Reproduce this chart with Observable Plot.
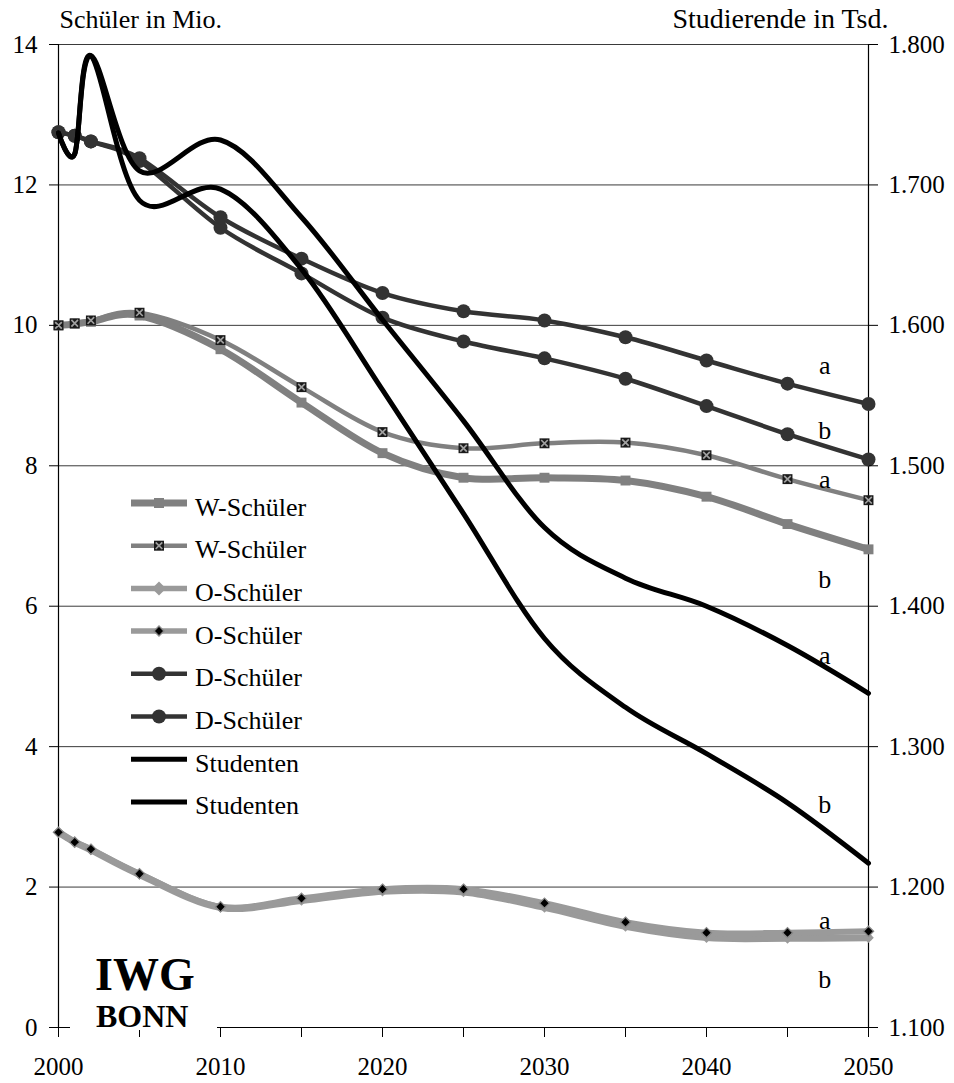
<!DOCTYPE html>
<html>
<head>
<meta charset="utf-8">
<script src="https://cdn.jsdelivr.net/npm/d3@7"></script>
<script src="https://cdn.jsdelivr.net/npm/@observablehq/plot@0.6"></script>
<style>
  body { margin: 0; background: #fff; }
  #chart { width: 954px; height: 1083px; }
</style>
</head>
<body>
<div id="chart"></div>
<script>
// ---------- data ----------
const years = [2000, 2001, 2002, 2005, 2010, 2015, 2020, 2025, 2030, 2035, 2040, 2045, 2050];

// Schüler in Mio. (left axis)
const wSchuelerB = [10.00, 10.02, 10.05, 10.14, 9.66, 8.90, 8.18, 7.83, 7.83, 7.79, 7.56, 7.17, 6.81];
const wSchuelerA = [10.00, 10.03, 10.07, 10.18, 9.79, 9.12, 8.48, 8.25, 8.32, 8.33, 8.15, 7.81, 7.51];
const oSchuelerB = [2.78, 2.64, 2.53, 2.18, 1.71, 1.81, 1.94, 1.93, 1.71, 1.44, 1.28, 1.27, 1.28];
const oSchuelerA = [2.78, 2.64, 2.54, 2.19, 1.72, 1.84, 1.97, 1.97, 1.77, 1.50, 1.35, 1.35, 1.37];
const dSchuelerB = [12.75, 12.70, 12.62, 12.34, 11.39, 10.74, 10.11, 9.77, 9.53, 9.24, 8.85, 8.45, 8.09];
const dSchuelerA = [12.75, 12.70, 12.62, 12.38, 11.54, 10.95, 10.46, 10.20, 10.07, 9.83, 9.50, 9.17, 8.88];

// Studierende in Tsd. (right axis)
const studentenA = [1737, 1722, 1792, 1710, 1732, 1677, 1604, 1532, 1456, 1420, 1400, 1372, 1338];
const studentenB = [1737, 1722, 1792, 1689, 1697, 1640, 1554, 1466, 1377, 1328, 1295, 1260, 1217];

const leftTicks = [0, 2, 4, 6, 8, 10, 12, 14];
const rightTicks = [1100, 1200, 1300, 1400, 1500, 1600, 1700, 1800];
const xTicks = [2000, 2005, 2010, 2015, 2020, 2025, 2030, 2035, 2040, 2045, 2050];
const xLabels = [2000, 2010, 2020, 2030, 2040, 2050];

const leftTitle = "Schüler in Mio.";
const rightTitle = "Studierende in Tsd.";
const legendLabels = ["W-Schüler", "W-Schüler", "O-Schüler", "O-Schüler", "D-Schüler", "D-Schüler", "Studenten", "Studenten"];
const logoLines = ["IWG", "BONN"];

// ---------- helpers ----------
const rightMin = 1100, rightStep = 50;           // 1.100 .. 1.800 on 0 .. 14
const toLeft = v => (v - rightMin) / rightStep;
const fromLeft = v => rightMin + v * rightStep;
const fmtDE = d3.formatLocale({decimal: ",", thousands: ".", grouping: [3], currency: ["", " €"]}).format(",d");
const rows = (vals, f = d => d) => years.map((year, i) => ({year, value: f(vals[i])}));

const curve = d3.curveCardinal.tension(0);   // Excel-like smoothing

const S = {
  wB: rows(wSchuelerB), wA: rows(wSchuelerA),
  oB: rows(oSchuelerB), oA: rows(oSchuelerA),
  dB: rows(dSchuelerB), dA: rows(dSchuelerA),
  sA: rows(studentenA, toLeft), sB: rows(studentenB, toLeft)
};

const cW = "#808080", cO = "#9a9a9a", cD = "#333333";
const FONT = "'Liberation Serif', 'Times New Roman', serif";

// end labels a / b: placed near 2047 relative to each series (pixel offset)
const endLabels = [
  {t: "a", s: S.dA, dy: -28}, {t: "b", s: S.dB, dy: -16},
  {t: "a", s: S.wA, dy: -10}, {t: "b", s: S.wB, dy: 43},
  {t: "a", s: S.sA, dy: -14}, {t: "b", s: S.sB, dy: -28},
  {t: "a", s: S.oA, dy: -11}, {t: "b", s: S.oB, dy: 42}
].map(d => {
  const n = d.s.length;
  return {t: d.t, year: 2047.3, value: (d.s[n - 1].value + d.s[n - 2].value) / 2, dy: d.dy};
});

// legend drawn as a custom mark inside the plot frame
function legendMark() {
  const g = d3.create("svg:g").attr("font-family", FONT).attr("font-size", 26).attr("fill", "black").attr("text-anchor", "start");
  const x0 = 131, x1 = 187, xm = 159, tx = 195, y0 = 503, step = 42.7;
  const styles = [
    {stroke: cW, w: 7, m: "sq"},
    {stroke: cW, w: 4.5, m: "sqx"},
    {stroke: cO, w: 5.5, m: "dia"},
    {stroke: cO, w: 5.5, m: "diab"},
    {stroke: cD, w: 4.5, m: "circ"},
    {stroke: cD, w: 4.5, m: "circ"},
    {stroke: "black", w: 5, m: null},
    {stroke: "black", w: 5, m: null}
  ];
  legendLabels.forEach((label, i) => {
    const cy = y0 + i * step, st = styles[i];
    g.append("line").attr("x1", x0).attr("x2", x1).attr("y1", cy).attr("y2", cy)
      .attr("stroke", st.stroke).attr("stroke-width", st.w);
    if (st.m === "sq") g.append("rect").attr("x", xm - 5).attr("y", cy - 5).attr("width", 10).attr("height", 10).attr("fill", cW);
    if (st.m === "sqx") {
      g.append("rect").attr("x", xm - 5).attr("y", cy - 5).attr("width", 10).attr("height", 10).attr("fill", "#1a1a1a");
      g.append("path").attr("d", `M${xm-3.3},${cy-3.3}L${xm+3.3},${cy+3.3}M${xm-3.3},${cy+3.3}L${xm+3.3},${cy-3.3}`).attr("stroke", "#a0a0a0").attr("stroke-width", 1.7);
    }
    if (st.m === "dia") g.append("path").attr("d", `M${xm},${cy-7}L${xm+7},${cy}L${xm},${cy+7}L${xm-7},${cy}Z`).attr("fill", cO);
    if (st.m === "diab") g.append("path").attr("d", `M${xm},${cy-5}L${xm+5},${cy}L${xm},${cy+5}L${xm-5},${cy}Z`).attr("fill", "black").attr("stroke", "#8a8a8a").attr("stroke-width", 1.4);
    if (st.m === "circ") g.append("circle").attr("cx", xm).attr("cy", cy).attr("r", 7).attr("fill", cD);
    g.append("text").attr("x", tx).attr("y", cy + 12.5).text(label);
  });
  return g.node();
}

function logoMark() {
  const g = d3.create("svg:g").attr("font-family", FONT).attr("font-weight", "bold").attr("fill", "black").attr("text-anchor", "start");
  g.append("rect").attr("x", 70).attr("y", 945).attr("width", 147).attr("height", 85).attr("fill", "white");
  g.append("text").attr("x", 95).attr("y", 990).attr("font-size", 46).text(logoLines[0]);
  g.append("text").attr("x", 96).attr("y", 1027).attr("font-size", 32).text(logoLines[1]);
  return g.node();
}

const lineOpts = (stroke, w) => ({x: "year", y: "value", curve, stroke, strokeWidth: w, strokeLinejoin: "round"});

const plot = Plot.plot({
  width: 954, height: 1083,
  marginLeft: 58, marginRight: 86, marginTop: 44, marginBottom: 56,
  style: {fontFamily: FONT, fontSize: "25px", color: "black", background: "white", overflow: "visible"},
  x: {type: "linear", domain: [2000, 2050]},
  y: {type: "linear", domain: [0, 14]},
  marks: [
    // grid
    Plot.ruleY(leftTicks.filter(d => d > 0), {stroke: "#3a3a3a", strokeWidth: 1}),
    // frame axes lines
    Plot.ruleX([2000], {stroke: "black", strokeWidth: 1.2}),
    Plot.ruleX([2050], {stroke: "black", strokeWidth: 1.2}),
    Plot.ruleY([0], {stroke: "black", strokeWidth: 1.2}),

    // O-Schüler
    Plot.line(S.oB, lineOpts(cO, 7)),
    Plot.dot(S.oB, {x: "year", y: "value", symbol: "diamond2", r: 4.8, fill: cO}),
    Plot.line(S.oA, lineOpts(cO, 6)),
    Plot.dot(S.oA, {x: "year", y: "value", symbol: "diamond2", r: 4.6, fill: "black", stroke: "#8a8a8a", strokeWidth: 1.3}),

    // W-Schüler
    Plot.line(S.wB, lineOpts(cW, 7)),
    Plot.dot(S.wB, {x: "year", y: "value", symbol: "square", r: 5.6, fill: cW}),
    Plot.line(S.wA, lineOpts(cW, 4.5)),
    Plot.dot(S.wA, {x: "year", y: "value", symbol: "square", r: 5.6, fill: "#1a1a1a"}),
    Plot.dot(S.wA, {x: "year", y: "value", symbol: "times", r: 3.1, stroke: "#a0a0a0", strokeWidth: 1.7}),

    // D-Schüler
    Plot.line(S.dB, lineOpts(cD, 4.5)),
    Plot.dot(S.dB, {x: "year", y: "value", r: 7, fill: cD}),
    Plot.line(S.dA, lineOpts(cD, 4.5)),
    Plot.dot(S.dA, {x: "year", y: "value", r: 7, fill: cD}),

    // Studenten (right axis)
    Plot.line(S.sB, lineOpts("black", 5)),
    Plot.line(S.sA, lineOpts("black", 5)),

    // axes
    Plot.axisY({anchor: "left", ticks: leftTicks, tickSize: 9, tickPadding: 12, label: null}),
    Plot.axisY({anchor: "right", ticks: rightTicks.map(toLeft), tickFormat: v => fmtDE(Math.round(fromLeft(v))), tickSize: 9, tickPadding: 11, label: null}),
    Plot.axisX({ticks: xTicks, tickFormat: d => xLabels.includes(d) ? String(d) : "", tickSize: 10, tickPadding: 20, label: null}),

    // axis titles
    Plot.text([leftTitle], {frameAnchor: "top-left", textAnchor: "start", lineAnchor: "bottom", dx: 1, dy: -17, fontSize: 26}),
    Plot.text([rightTitle], {frameAnchor: "top-right", textAnchor: "end", lineAnchor: "bottom", dx: 20, dy: -17, fontSize: 28}),

    // end labels
    ...endLabels.map(d => Plot.text([d], {x: "year", y: "value", text: "t", dy: d.dy, fontSize: 26})),

    legendMark,
    logoMark
  ]
});

document.getElementById("chart").appendChild(plot);
</script>
</body>
</html>
